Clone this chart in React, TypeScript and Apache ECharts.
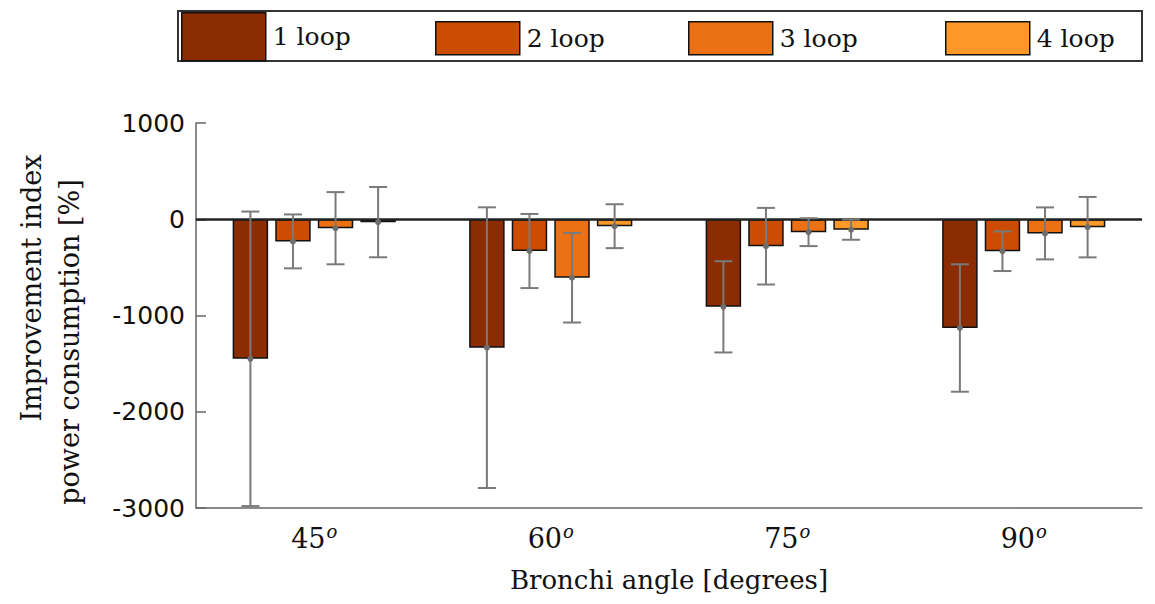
import React, { useEffect, useRef } from "react";
import * as echarts from "echarts";

const categories = ["45", "60", "75", "90"];
const seriesNames = ["1 loop", "2 loop", "3 loop", "4 loop"];
const colors = ["#8B2C02", "#CC4C02", "#EC7014", "#FE9929"];
const loop1Mean = [-1450, -1334, -910, -1130];
const loop1Err = [1530, 1458, 474, 662];
const loop2Mean = [-230, -330, -280, -332];
const loop2Err = [280, 385, 398, 206];
const loop3Mean = [-93, -608, -134, -147];
const loop3Err = [375, 465, 145, 270];
const loop4Mean = [-30, -72, -108, -82];
const loop4Err = [365, 228, 105, 314];
const yTicks = { min: -3000, max: 1000, interval: 1000 };
const yTitleLines = ["Improvement index", "power consumption [%]"];

const means = [loop1Mean, loop2Mean, loop3Mean, loop4Mean];
const errs = [loop1Err, loop2Err, loop3Err, loop4Err];

const CAT_GAP = 0.31;
const BAR_GAP = 0.2;

export default function App() {
  const ref = useRef<HTMLDivElement>(null);
  useEffect(() => {
    if (!ref.current) return;
    const chart = echarts.init(ref.current, null, { renderer: "svg" });
    const serif = "DejaVu Serif";
    const barSeries = seriesNames.map((name, k) => ({
      type: "bar",
      name,
      data: means[k],
      barGap: BAR_GAP * 100 + "%",
      barCategoryGap: CAT_GAP * 100 + "%",
      itemStyle: { color: colors[k], borderColor: "#111", borderWidth: 1.5 },
      z: 2,
      ...(k === 0
        ? {
            markLine: {
              silent: true,
              symbol: ["none", "none"],
              label: { show: false },
              lineStyle: { color: "#222", width: 2.5, type: "solid" },
              data: [{ yAxis: 0 }],
              z: 3,
            },
          }
        : {}),
    }));
    const errSeries = seriesNames.map((name, k) => ({
      type: "custom",
      name: name + " err",
      z: 5,
      data: categories.map((_, i) => [i, means[k][i], errs[k][i]]),
      encode: { x: 0, y: 1 },
      renderItem: (params: any, api: any) => {
        const ci = api.value(0);
        const m = api.value(1);
        const e = api.value(2);
        const c = api.coord([ci, m]);
        const t = api.coord([ci, m + e]);
        const b = api.coord([ci, m - e]);
        const band = api.size([1, 0])[0];
        const bw = (band * (1 - CAT_GAP)) / (4 + 3 * BAR_GAP);
        const x = c[0] + (k - 1.5) * bw * (1 + BAR_GAP);
        const cap = 9;
        const st = { stroke: "#7a7a7a", lineWidth: 2 };
        return {
          type: "group",
          children: [
            { type: "line", shape: { x1: x, y1: t[1], x2: x, y2: b[1] }, style: st },
            { type: "line", shape: { x1: x - cap, y1: t[1], x2: x + cap, y2: t[1] }, style: st },
            { type: "line", shape: { x1: x - cap, y1: b[1], x2: x + cap, y2: b[1] }, style: st },
            { type: "circle", shape: { cx: x, cy: c[1], r: 3 }, style: { fill: "#6e6e6e" } },
          ],
        };
      },
    }));
    const legendBase = (name: string, left: number, top: number, h: number) => ({
      data: [name],
      left,
      top,
      padding: 0,
      itemWidth: 84,
      itemHeight: h,
      itemGap: 0,
      icon: "rect",
      itemStyle: { borderColor: "#111", borderWidth: 1.5 },
      textStyle: { fontFamily: serif, fontSize: 25, color: "#111", padding: [0, 0, 0, 2] },
      selectedMode: false,
    });
    chart.setOption({
      animation: false,
      color: colors,
      graphic: [
        {
          type: "rect",
          shape: { x: 178, y: 11, width: 964, height: 50 },
          style: { fill: "#fff", stroke: "#333", lineWidth: 2 },
          z: -1,
        },
        {
          type: "text",
          x: 31,
          y: 288,
          rotation: Math.PI / 2,
          style: {
            text: yTitleLines[0],
            fontFamily: serif,
            fontSize: 27,
            fill: "#111",
            textAlign: "center",
            textVerticalAlign: "middle",
          },
        },
        {
          type: "text",
          x: 69,
          y: 342,
          rotation: Math.PI / 2,
          style: {
            text: yTitleLines[1],
            fontFamily: serif,
            fontSize: 27,
            fill: "#111",
            textAlign: "center",
            textVerticalAlign: "middle",
          },
        },
      ],
      legend: [
        legendBase("1 loop", 181, 12, 48),
        legendBase("2 loop", 435, 21, 33),
        legendBase("3 loop", 688, 21, 33),
        legendBase("4 loop", 945, 21, 33),
      ],
      grid: { left: 196, right: 13, top: 123, bottom: 96, containLabel: false },
      xAxis: {
        type: "category",
        data: categories,
        axisLine: { onZero: false, lineStyle: { color: "#666", width: 1.5 } },
        axisTick: { show: false },
        axisLabel: {
          margin: 14,
          formatter: (v: string) => `{n|${v}}{s|o}`,
          rich: {
            n: { fontFamily: serif, fontSize: 27, color: "#111" },
            s: { fontFamily: serif, fontSize: 18, fontStyle: "italic", color: "#111", padding: [0, 0, 14, 1] },
          },
        },
        name: "Bronchi angle [degrees]",
        nameLocation: "middle",
        nameGap: 59,
        nameTextStyle: { fontFamily: serif, fontSize: 26, color: "#111" },
      },
      yAxis: {
        type: "value",
        min: yTicks.min,
        max: yTicks.max,
        interval: yTicks.interval,
        splitLine: { show: false },
        axisLine: { show: true, lineStyle: { color: "#666", width: 1.5 } },
        axisTick: { show: true, inside: true, length: 10, lineStyle: { color: "#666", width: 1.5 } },
        axisLabel: {
          margin: 11,
          formatter: (v: number) => String(v),
          fontFamily: "DejaVu Sans",
          fontSize: 25,
          color: "#111",
        },
      },
      series: [...barSeries, ...errSeries],
    });
    return () => chart.dispose();
  }, []);
  return <div ref={ref} style={{ width: 1155, height: 604, position: "absolute", left: 0, top: 0 }} />;
}
